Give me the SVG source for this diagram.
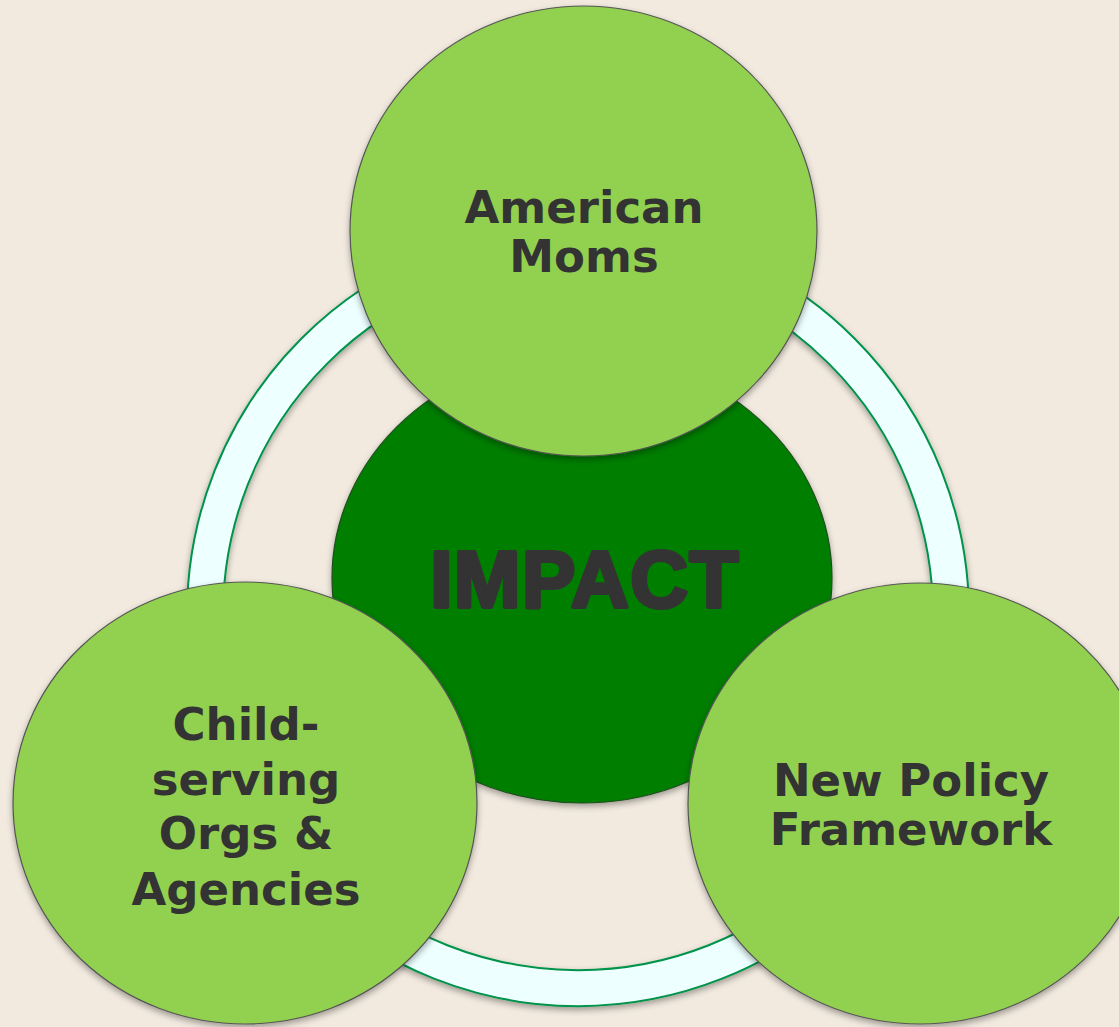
<svg xmlns="http://www.w3.org/2000/svg" width="1119" height="1027" viewBox="0 0 1119 1027">
  <style>
    .bg { fill: #F2EADF; }
    .ring { fill: #EDFFFF; stroke: #00934A; stroke-width: 2; fill-rule: evenodd; }
    .sat { fill: #92D050; stroke: #555; stroke-width: 1.2; }
    .hub { fill: #007E00; stroke: #1E4E1E; stroke-width: 1.2; }
    .lbl { font-family: "DejaVu Sans", Verdana, sans-serif; font-weight: bold; font-size: 45px; fill: #333333; text-anchor: middle; }
    .big { font-family: "Liberation Sans", Arial, sans-serif; font-weight: bold; font-size: 80px; fill: #333333; stroke: #333333; stroke-width: 4; stroke-linejoin: round; text-anchor: middle; letter-spacing: 1.5px; }
  </style>
  <defs>
    <filter id="sh" x="-10%" y="-10%" width="120%" height="125%">
      <feDropShadow dx="0" dy="3" stdDeviation="3" flood-color="#000" flood-opacity="0.35"/>
    </filter>
  </defs>
  <rect class="bg" x="0" y="0" width="1119" height="1027"/>

  <g id="connectors">
    <path id="ring" class="ring" filter="url(#sh)" d="M 187 615 A 391 391 0 1 0 969 615 A 391 391 0 1 0 187 615 Z M 223 615 A 355 355 0 1 0 933 615 A 355 355 0 1 0 223 615 Z"/>
  </g>

  <g id="node-impact">
    <ellipse class="hub" filter="url(#sh)" cx="582" cy="578" rx="250" ry="225"/>
    <text class="big" x="585" y="607">IMPACT</text>
  </g>

  <g id="node-american-moms">
    <ellipse class="sat" filter="url(#sh)" cx="583.5" cy="231" rx="233.5" ry="225"/>
    <text class="lbl" x="584" y="223">American</text>
    <text class="lbl" x="584" y="272">Moms</text>
  </g>

  <g id="node-child-serving">
    <ellipse class="sat" filter="url(#sh)" cx="245" cy="803" rx="232" ry="221"/>
    <text class="lbl" x="246" y="740">Child-</text>
    <text class="lbl" x="246" y="795">serving</text>
    <text class="lbl" x="246" y="849">Orgs &amp;</text>
    <text class="lbl" x="246" y="905">Agencies</text>
  </g>

  <g id="node-new-policy">
    <ellipse class="sat" filter="url(#sh)" cx="920" cy="803.5" rx="232" ry="220.5"/>
    <text class="lbl" x="911" y="796">New Policy</text>
    <text class="lbl" x="911" y="845">Framework</text>
  </g>
</svg>
